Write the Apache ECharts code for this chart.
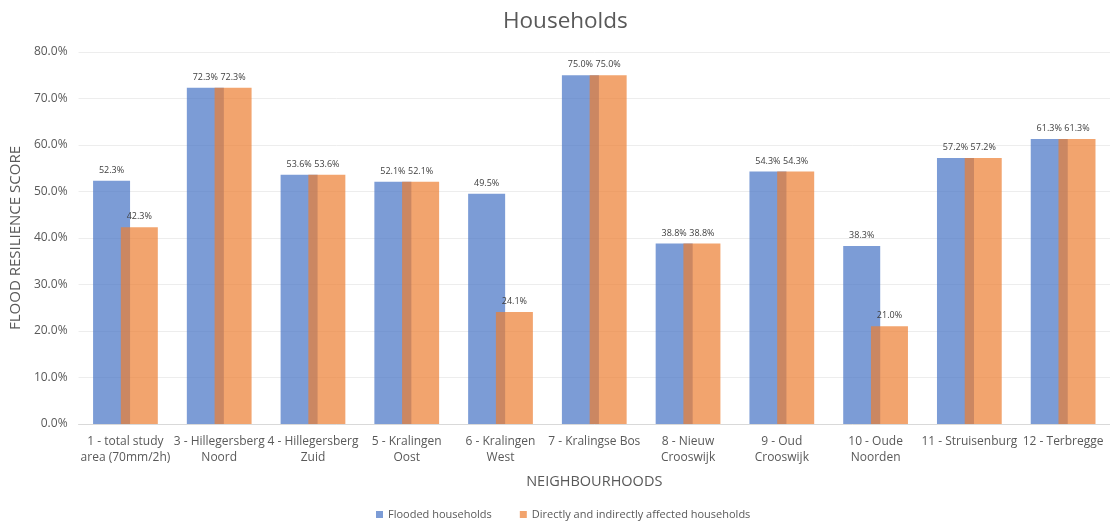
<!DOCTYPE html>
<html><head><meta charset="utf-8">
<script src="https://cdn.jsdelivr.net/npm/echarts@6/dist/echarts.min.js"></script>
<style>html,body{margin:0;padding:0;background:#fff}#c{width:1110px;height:525px}</style>
</head><body><div id="c"></div>
<script>
const categories = ["1 - total study\narea (70mm/2h)","3 - Hillegersberg\nNoord","4 - Hillegersberg\nZuid","5 - Kralingen\nOost","6 - Kralingen\nWest","7 - Kralingse Bos","8 - Nieuw\nCrooswijk","9 - Oud\nCrooswijk","10 - Oude\nNoorden","11 - Struisenburg","12 - Terbregge"];
const flooded = [52.3,72.3,53.6,52.1,49.5,75.0,38.8,54.3,38.3,57.2,61.3];
const affected = [42.3,72.3,53.6,52.1,24.1,75.0,38.8,54.3,21.0,57.2,61.3];
const seriesNames = ["Flooded households","Directly and indirectly affected households"];
const yTicks = [0,10,20,30,40,50,60,70,80];

const font = "'Open Sans', 'Noto Sans', sans-serif";
const chart = echarts.init(document.getElementById('c'), null, {renderer:'canvas'});
const lbl = {show:true, position:'top', distance:6, fontSize:9, color:'#404040', fontFamily:font,
  formatter: p => p.value.toFixed(1) + '%'};
chart.setOption({
  animation:false,
  title:{text:'Households', left:498, top:5, textStyle:{fontFamily:font, fontSize:22.5, fontWeight:'normal', color:'#595959'}},
  grid:{left:77, width:1037, top:52, bottom:101},
  legend:{bottom:0, left:371, itemWidth:7, itemHeight:7, itemGap:28, icon:'rect',
    textStyle:{fontFamily:font, fontSize:11, color:'#595959'}},
  xAxis:{type:'category', data:categories, name:'NEIGHBOURHOODS', nameLocation:'middle', nameGap:50,
    nameTextStyle:{fontFamily:font, fontSize:14.5, color:'#595959', padding:[0,0,0,0]},
    axisLine:{lineStyle:{color:'#d9d9d9'}}, axisTick:{show:false},
    axisLabel:{interval:0, fontFamily:font, fontSize:12, color:'#595959', lineHeight:16, margin:10}},
  yAxis:{type:'value', min:yTicks[0], max:yTicks[yTicks.length-1], interval:10,
    name:'FLOOD RESILIENCE SCORE', nameLocation:'middle', nameGap:53, nameRotate:90,
    nameTextStyle:{fontFamily:font, fontSize:15, color:'#595959'},
    axisLabel:{fontFamily:font, fontSize:12, color:'#595959', margin:11, formatter:v=>v.toFixed(1)+'%'},
    splitLine:{lineStyle:{color:'#ededed'}}},
  series:[
    {name:seriesNames[0], type:'bar', data:flooded, barWidth:37, barGap:'-25%',
     itemStyle:{color:'rgba(68,114,196,0.7)'}, label:lbl},
    {name:seriesNames[1], type:'bar', data:affected, barWidth:37,
     itemStyle:{color:'rgba(237,125,49,0.7)'}, label:lbl}
  ]
});
</script></body></html>
